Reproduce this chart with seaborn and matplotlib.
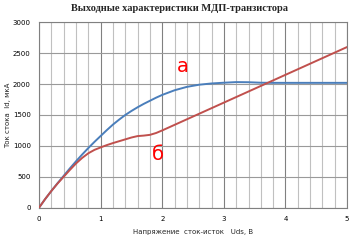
import numpy as np
import pandas as pd
import seaborn as sns
import matplotlib.pyplot as plt
from matplotlib.ticker import MultipleLocator

sns.set_style("white")
plt.rcParams['font.family'] = ['DejaVu Sans']

# Data (Uds in V, Id in uA)
u_a = [0, 0.1, 0.2, 0.3, 0.4, 0.5, 0.6, 0.7, 0.8, 0.9, 1.0, 1.1, 1.2, 1.3, 1.4, 1.5,
       1.6, 1.7, 1.8, 1.9, 2.0, 2.2, 2.4, 2.6, 2.8, 3.0, 3.2, 3.4, 3.6, 3.8, 4.0,
       4.5, 5.0]
id_a = [0, 140, 270, 395, 515, 635, 750, 860, 965, 1065, 1160, 1255, 1345, 1425,
        1500, 1565, 1625, 1680, 1730, 1780, 1825, 1900, 1955, 1990, 2010, 2022,
        2032, 2030, 2022, 2020, 2020, 2020, 2020]
u_b = [0, 0.1, 0.2, 0.3, 0.4, 0.5, 0.6, 0.7, 0.8, 0.9, 1.0, 1.1, 1.2, 1.3, 1.4, 1.5,
       1.6, 1.7, 1.8, 1.9, 2.0, 2.2, 2.4, 3.0, 4.0, 5.0]
id_b = [0, 140, 270, 390, 500, 610, 715, 805, 880, 935, 975, 1012, 1045, 1075,
        1105, 1135, 1158, 1166, 1178, 1208, 1250, 1340, 1430, 1700, 2150, 2600]

title = "Выходные характеристики МДП-транзистора"
xlabel = "Напряжение  сток-исток   Uds, В"
ylabel = "Ток стока  Id, мкА"

df_a = pd.DataFrame({"u": u_a, "i": id_a})
df_b = pd.DataFrame({"u": u_b, "i": id_b})

fig = plt.figure(figsize=(3.52, 2.4), dpi=100)
ax = fig.add_axes([0.111, 0.135, 0.875, 0.772])

ax.set_xlim(0, 5)
ax.set_ylim(0, 3000)
ax.xaxis.set_major_locator(MultipleLocator(1))
ax.xaxis.set_minor_locator(MultipleLocator(0.2))
ax.yaxis.set_major_locator(MultipleLocator(500))
ax.grid(which='minor', axis='x', color='#c0c0c0', lw=0.8)
ax.grid(which='major', axis='x', color='#808080', lw=0.8)
ax.grid(which='major', axis='y', color='#9a9a9a', lw=0.8)
ax.set_axisbelow(True)

sns.lineplot(data=df_b, x="u", y="i", ax=ax, color='#c0504d', lw=1.4)
sns.lineplot(data=df_a, x="u", y="i", ax=ax, color='#4a7ebb', lw=1.4)
ax.lines[0].set_zorder(3)

for s in ax.spines.values():
    s.set_color('#808080')
    s.set_linewidth(0.8)

ax.tick_params(axis='both', which='both', length=0, labelsize=5, pad=6, colors='black')
ax.set_xticks([0, 1, 2, 3, 4, 5])
ax.set_xticklabels(['0', '1', '2', '3', '4', '5'])
ax.set_yticks([0, 500, 1000, 1500, 2000, 2500, 3000])
ax.set_yticklabels(['0', '500', '1000', '1500', '2000', '2500', '3000'])
ax.set_xlabel(xlabel, fontsize=5)
ax.set_ylabel(ylabel, fontsize=5)
ax.xaxis.set_label_coords(0.5, -0.115)
ax.yaxis.set_label_coords(-0.092, 0.5)

fig.text(0.51, 0.965, title, ha='center', va='center', fontsize=7.5,
         fontweight='bold', family='Liberation Serif')

ax.text(2.33, 2290, "а", color='#ff0000', fontsize=14, ha='center', va='center')
ax.text(1.93, 860, "б", color='#ff0000', fontsize=14, ha='center', va='center')

fig.savefig("out.png", dpi=100)
